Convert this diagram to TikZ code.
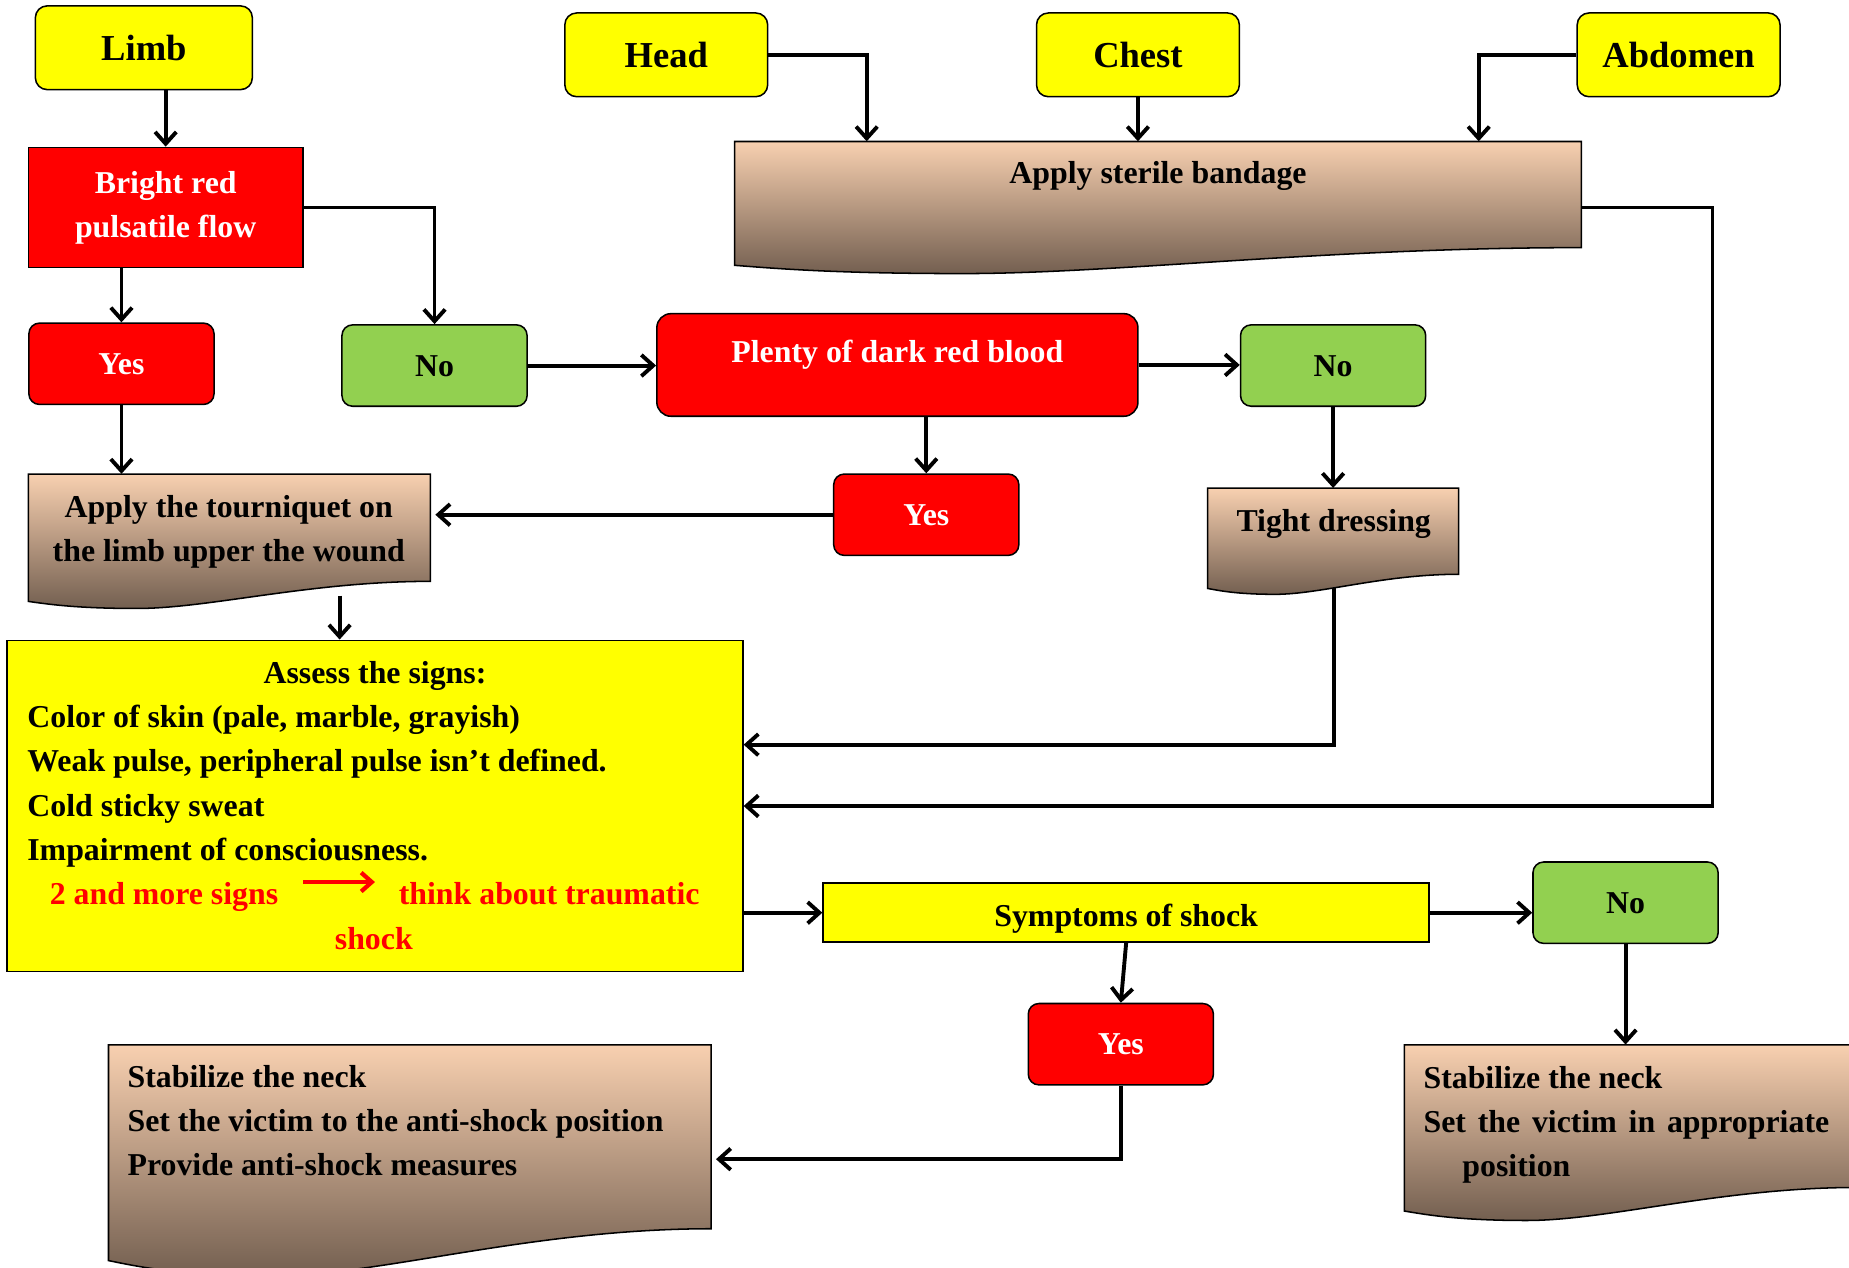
\documentclass[tikz,border=0pt]{standalone}
\usepackage{fontspec}
\setmainfont{Liberation Serif}
\usepackage{xcolor}
\usetikzlibrary{arrows.meta, fit}
\definecolor{myyellow}{RGB}{255,255,0}
\definecolor{myred}{RGB}{255,0,0}
\definecolor{mygreen}{RGB}{146,208,80}
\definecolor{doctop}{RGB}{248,208,176}
\definecolor{docbot}{RGB}{115,95,80}

% document shape: name, x1, y1, x2, right bottom, left bottom, dip
\newcommand{\docshape}[7]{%
\path[docfill] (#2,#3) -- (#4,#3) -- (#4,#5)
  .. controls ({#4-0.3*(#4-#2)},#5) and ({#2+0.45*(#4-#2)},#7) .. ({#2+0.27*(#4-#2)},#7)
  .. controls ({#2+0.12*(#4-#2)},#7) and ({#2+0.05*(#4-#2)},{#6+0.4*(#7-#6)}) .. (#2,#6) -- cycle;
\node[fit={(#2,#3) (#4,#5)}, inner sep=0pt] (#1) {};
}

\begin{document}
\begin{tikzpicture}[x=1pt, y=-1pt,
  box/.style={draw, line width=1.3pt, inner sep=0pt, align=center, font=\fontsize{27}{37.5}\selectfont\bfseries},
  part/.style={box, fill=myyellow, rounded corners=10pt, minimum width=172pt, minimum height=71pt, font=\fontsize{31}{37}\selectfont\bfseries, text height=21pt, text depth=0pt},
  yesbox/.style={box, fill=myred, text=white, rounded corners=9pt, minimum width=157pt, minimum height=69pt, text height=18pt, text depth=0pt},
  nobox/.style={yesbox, fill=mygreen, text=black},
  txt/.style={inner sep=0pt, font=\fontsize{27}{37.5}\selectfont\bfseries},
  flow/.style={line width=3.3pt, -{Straight Barb[length=10pt,width=18pt]}},
  redarrow/.style={draw=myred, line width=3.6pt, -{Straight Barb[length=9pt,width=16pt]}},
  docfill/.style={draw, line width=1.3pt, top color=doctop, bottom color=docbot}]
\useasboundingbox (0,0) rectangle (1568,1075);

% wound location
\node[part, minimum width=184pt] (limb) at (122,40.5) {Limb};
\node[part] (head) at (565,46.5) {Head};
\node[part] (chest) at (965,46.5) {Chest};
\node[part] (abdomen) at (1423.5,46.5) {Abdomen};

\docshape{bandage}{623}{120}{1341}{210}{225}{232}
\node[txt, anchor=base] (bandage-t) at (982,156) {Apply sterile bandage};

% bleeding
\node[box, fill=myred, text=white, minimum width=233pt, minimum height=102pt] (bright) at (140.5,176) {Bright red\\pulsatile flow};
\node[yesbox] (yesA) at (103,308.5) {Yes};
\node[nobox] (noA) at (368.5,310) {No};
\node[box, fill=myred, rounded corners=12pt, minimum width=408pt, minimum height=87pt] (plenty) at (761,309.5) {};
\node[txt, text=white, anchor=base] (plenty-t) at (761,307) {Plenty of dark red blood};
\node[nobox] (noB) at (1130.5,310) {No};
\node[yesbox] (yesB) at (785.5,436.5) {Yes};

\docshape{tourniquet}{24}{402}{365}{493}{510}{516}
\node[txt, align=center] (tourniquet-t) at (194,451) {Apply the tourniquet on\\the limb upper the wound};
\docshape{tight}{1024}{414}{1237}{487}{499}{504}
\node[txt, anchor=base] (tight-t) at (1131,451) {Tight dressing};
\coordinate (tq-out) at (288,505);
\coordinate (tight-out) at (1131,499);

% signs of shock
\node[box, fill=myyellow, minimum width=624pt, minimum height=281pt] (assess) at (318,683.5) {};
\node[txt, anchor=base] (assess-t) at (318,580) {Assess the signs:};
\foreach \t [count=\i] in {{Color of skin (pale, marble, grayish)}, {Weak pulse, peripheral pulse isn’t defined.}, {Cold sticky sweat}, {Impairment of consciousness.}}
  \node[txt, anchor=base west] (sign\i) at (23,{579.5+37.5*\i}) {\t};
\node[txt, text=myred, anchor=base west] (two) at (42,767) {2 and more signs};
\node[txt, text=myred, anchor=base west] (think) at (338,767) {think about traumatic};
\node[txt, text=myred, anchor=base] (shock) at (317,805) {shock};
\draw[redarrow] ([shift={(21pt,19pt)}]two.base east) -- ([shift={(-20pt,19pt)}]think.base west);

\node[box, fill=myyellow, minimum width=514pt, minimum height=50pt] (symptoms) at (955,774) {};
\node[txt, anchor=base] (symptoms-t) at (955,786) {Symptoms of shock};
\node[nobox] (noC) at (1378.5,765.5) {No};
\node[yesbox] (yesC) at (950.5,885.5) {Yes};

\docshape{stabL}{92}{886}{603}{1042}{1069}{1082}
\foreach \t [count=\i] in {{Stabilize the neck}, {Set the victim to the anti-shock position}, {Provide anti-shock measures}}
  \node[txt, anchor=base west] (stabL\i) at (108,{884.5+37.5*\i}) {\t};
\docshape{stabR}{1191}{886}{1575}{1007}{1027}{1035}
\node[txt, anchor=base west] (stabR1) at (1207,923) {Stabilize the neck};
\node[txt, anchor=base west] (stabR2) at (1207,960) {\makebox[344pt][s]{Set the victim in appropriate}};
\node[txt, anchor=base west] (stabR3) at (1240,998) {position};

% connectors
\draw[flow] (limb.south -| bright.north) -- (bright.north);
\draw[flow] (head.east) -| (bandage.north -| 735,0);
\draw[flow] (chest.south) -- (chest.south |- bandage.north);
\draw[flow] (abdomen.west) -| (bandage.north -| 1254,0);
\draw[flow] (bandage.east |- 0,176) -- ++(111,0) |- (assess.east);
\draw[flow] (bright.east) -| (noA.north);
\draw[flow] (bright.south -| yesA.north) -- (yesA.north);
\draw[flow] (yesA.south) -- (yesA.south |- tourniquet.north);
\draw[flow] (noA.east) -- (noA.east -| plenty.west);
\draw[flow] (plenty.east) -- (plenty.east -| noB.west);
\draw[flow] (plenty.south -| yesB.north) -- (yesB.north);
\draw[flow, shorten >=4pt] (yesB.west) -- (yesB.west -| tourniquet.east);
\draw[flow] (noB.south) -- (tight.north);
\draw[flow] (tight-out) |- ([yshift=52pt]assess.east);
\draw[flow] (tq-out) -- (tq-out |- assess.north);
\draw[flow] (assess.east |- symptoms.west) -- (symptoms.west);
\draw[flow] (symptoms.east) -- (symptoms.east -| noC.west);
\draw[flow] (symptoms.south) -- (yesC.north);
\draw[flow, shorten >=4pt] (yesC.south) |- ([yshift=-19pt]stabL.east);
\draw[flow] (noC.south) -- (noC.south |- stabR.north);
\end{tikzpicture}
\end{document}
